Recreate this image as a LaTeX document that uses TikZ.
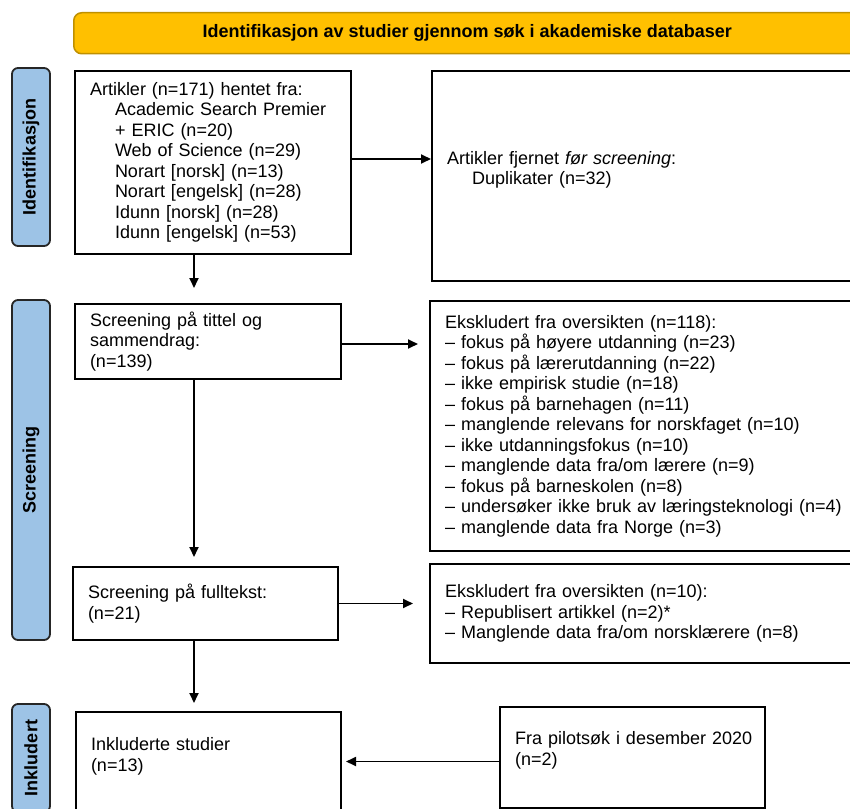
\documentclass[tikz,border=0pt]{standalone}
\usepackage{fontspec}
\setmainfont{Liberation Sans}
\usepackage{xcolor}
\usetikzlibrary{arrows.meta}

\definecolor{bannergold}{HTML}{FFC000}
\definecolor{bannerline}{HTML}{BF9000}
\definecolor{sideblue}{HTML}{9DC3E6}

\begin{document}
\begin{tikzpicture}[x=0.5pt,y=-0.5pt,
    every node/.style={font=\fontsize{9}{10.25}\selectfont},
    box/.style={draw, line width=1pt, rectangle, anchor=north west, align=left,
        inner xsep=7.5pt, inner ysep=0pt},
    sidebar/.style={draw=black!85, line width=0.9pt, fill=sideblue, rounded corners=3pt,
        rotate=90, minimum height=19pt, inner sep=0pt,
        font=\fontsize{9}{10.25}\selectfont\bfseries},
    arr/.style={line width=0.9pt, -{Triangle[length=5pt,width=4.5pt]}}]
    \clip (0,0) rectangle (850,808);

    % banner and phases
    \node[draw=bannerline, fill=bannergold, rounded corners=4pt, line width=0.75pt,
        anchor=north west, minimum width=393.5pt, minimum height=20.5pt,
        font=\fontsize{9}{10.25}\selectfont\bfseries] (banner) at (73,12)
        {Identifikasjon av studier gjennom søk i akademiske databaser};
    \node[sidebar, minimum width=89pt] (idlab) at (31,157) {Identifikasjon};
    \node[sidebar, minimum width=170pt] (screenlab) at (31,470) {Screening};
    \node[sidebar, minimum width=54pt] (inkllab) at (31,758) {Inkludert};

    % left column
    \node[box, text width=123pt, minimum height=91.5pt] (artikler) at (74,70)
        {Artikler (n=171) hentet fra:\\
        \hspace*{12.5pt}Academic Search Premier\\
        \hspace*{12.5pt}+ ERIC (n=20)\\
        \hspace*{12.5pt}Web of Science (n=29)\\
        \hspace*{12.5pt}Norart [norsk] (n=13)\\
        \hspace*{12.5pt}Norart [engelsk] (n=28)\\
        \hspace*{12.5pt}Idunn [norsk] (n=28)\\
        \hspace*{12.5pt}Idunn [engelsk] (n=53)};
    \node[box, text width=118pt, minimum height=37.5pt] (tittel) at (74,303)
        {Screening på tittel og\\sammendrag:\\(n=139)};
    \node[box, text width=117.5pt, minimum height=36.5pt] (fulltekst) at (72,566)
        {Screening på fulltekst:\\(n=21)};
    \node[box, text width=117.5pt, inner ysep=12.75pt, text depth=60pt] (inkl) at (75,711)
        {Inkluderte studier\\(n=13)};

    % right column
    \node[box, text width=205pt, minimum height=105pt, text depth=18.5pt] (fjernet) at (431,70)
        {Artikler fjernet \textit{før screening}:\\
        \hspace*{12.5pt}Duplikater (n=32)};
    \node[box, text width=205pt, minimum height=125pt] (ekskl) at (429,300)
        {Ekskludert fra oversikten (n=118):\\
        – fokus på høyere utdanning (n=23)\\
        – fokus på lærerutdanning (n=22)\\
        – ikke empirisk studie (n=18)\\
        – fokus på barnehagen (n=11)\\
        – manglende relevans for norskfaget (n=10)\\
        – ikke utdanningsfokus (n=10)\\
        – manglende data fra/om lærere (n=9)\\
        – fokus på barneskolen (n=8)\\
        – undersøker ikke bruk av læringsteknologi (n=4)\\
        – manglende data fra Norge (n=3)};
    \node[box, text width=205pt, minimum height=49.5pt] (ekskltekst) at (429,563)
        {Ekskludert fra oversikten (n=10):\\
        – Republisert artikkel (n=2)*\\
        – Manglende data fra/om norsklærere (n=8)};
    \node[box, text width=117.5pt, minimum height=50.5pt, text depth=19.5pt] (pilot) at (499,706)
        {\mbox{Fra pilotsøk i desember 2020}\\(n=2)};

    % arrows
    \coordinate (spine) at (194,0);
    \draw[arr, shorten >=7.5pt] (artikler.south -| spine) -- (tittel.north -| spine);
    \draw[arr, shorten >=4.5pt] (tittel.south -| spine) -- (fulltekst.north -| spine);
    \draw[arr, shorten >=4pt] (fulltekst.south -| spine) -- (inkl.north -| spine);
    \draw[arr] ([yshift=1.75pt]artikler.east) -- ([yshift=1.75pt]artikler.east -| fjernet.west);
    \draw[arr, shorten >=5.5pt] ([yshift=-1.25pt]tittel.east) -- ([yshift=-1.25pt]tittel.east -| ekskl.west);
    \draw[arr, shorten >=8pt] (fulltekst.east) -- (fulltekst.east -| ekskltekst.west);
    \draw[arr, shorten >=2pt] ([yshift=-2pt]pilot.west) -- ([yshift=-2pt]pilot.west -| inkl.east);
\end{tikzpicture}
\end{document}
